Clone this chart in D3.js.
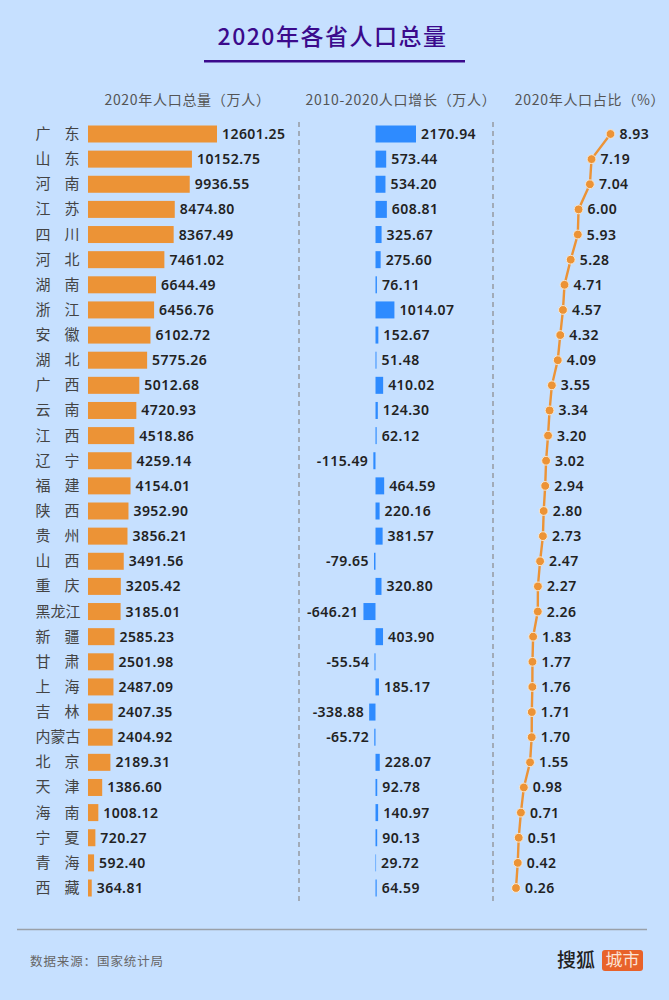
<!DOCTYPE html>
<html>
<head>
<meta charset="utf-8">
<script src="https://cdn.jsdelivr.net/npm/d3@7"></script>
<style>
  html, body { margin: 0; padding: 0; background: #c6e0ff; }
  svg { display: block; }
  text { font-family: "Noto Sans CJK SC", "Noto Sans", sans-serif; }
  .num { font-family: "Noto Sans", "Noto Sans CJK SC", sans-serif; font-size: 14px; font-weight: 600; fill: #222; letter-spacing: 0.45px; }
  .head { font-size: 14px; fill: #555; letter-spacing: 0.7px; }
  .prov { font-size: 15px; fill: #444; }
</style>
</head>
<body>
<div class="chart"></div>
<script>
const data = [
  ["广东", 12601.25, 2170.94, 8.93],
  ["山东", 10152.75, 573.44, 7.19],
  ["河南", 9936.55, 534.20, 7.04],
  ["江苏", 8474.80, 608.81, 6.00],
  ["四川", 8367.49, 325.67, 5.93],
  ["河北", 7461.02, 275.60, 5.28],
  ["湖南", 6644.49, 76.11, 4.71],
  ["浙江", 6456.76, 1014.07, 4.57],
  ["安徽", 6102.72, 152.67, 4.32],
  ["湖北", 5775.26, 51.48, 4.09],
  ["广西", 5012.68, 410.02, 3.55],
  ["云南", 4720.93, 124.30, 3.34],
  ["江西", 4518.86, 62.12, 3.20],
  ["辽宁", 4259.14, -115.49, 3.02],
  ["福建", 4154.01, 464.59, 2.94],
  ["陕西", 3952.90, 220.16, 2.80],
  ["贵州", 3856.21, 381.57, 2.73],
  ["山西", 3491.56, -79.65, 2.47],
  ["重庆", 3205.42, 320.80, 2.27],
  ["黑龙江", 3185.01, -646.21, 2.26],
  ["新疆", 2585.23, 403.90, 1.83],
  ["甘肃", 2501.98, -55.54, 1.77],
  ["上海", 2487.09, 185.17, 1.76],
  ["吉林", 2407.35, -338.88, 1.71],
  ["内蒙古", 2404.92, -65.72, 1.70],
  ["北京", 2189.31, 228.07, 1.55],
  ["天津", 1386.60, 92.78, 0.98],
  ["海南", 1008.12, 140.97, 0.71],
  ["宁夏", 720.27, 90.13, 0.51],
  ["青海", 592.40, 29.72, 0.42],
  ["西藏", 364.81, 64.59, 0.26]
];

const width = 669;
const height = 1000;
const barH = 17;

const svg = d3.select(".chart")
              .append("svg")
              .attr("width", width)
              .attr("height", height);

const y = d3.scalePoint()
            .domain(data.map(d => d[0]))
            .range([134, 888]);
const xTotal = d3.scaleLinear().domain([0, 12601.25]).range([88, 217]);
const xGrow = d3.scaleLinear().domain([0, 2170.94]).range([375.5, 416]);
const xShare = d3.scaleLinear().domain([0.26, 8.93]).range([516, 610.5]);

// title
svg.append("text")
   .attr("x", 332.5).attr("y", 45)
   .attr("text-anchor", "middle")
   .attr("fill", "#3b0a8c")
   .style("font-size", "23px")
   .style("font-weight", 500)
   .style("letter-spacing", "1.5px")
   .text("2020年各省人口总量");
svg.append("rect")
   .attr("x", 204).attr("y", 60).attr("width", 261).attr("height", 2.5)
   .attr("fill", "#3b0a8c");

// column heads
[[187.5, "2020年人口总量（万人）"], [401, "2010-2020人口增长（万人）"], [590, "2020年人口占比（%）"]]
  .forEach(h => {
    svg.append("text")
       .attr("class", "head")
       .attr("x", h[0]).attr("y", 105)
       .attr("text-anchor", "middle")
       .text(h[1]);
  });

// dashed dividers
[299, 493].forEach(x => {
  svg.append("line")
     .attr("x1", x).attr("x2", x)
     .attr("y1", 122).attr("y2", 904)
     .attr("stroke", "#8f9093")
     .attr("stroke-width", 1.3)
     .attr("stroke-dasharray", "5 4");
});

// province names, two-character names are spaced out
const prov = svg.append("g");
data.forEach(d => {
  const name = d[0];
  const xs = name.length === 2 ? [43, 72] : [43, 58, 73];
  name.split("").forEach((c, i) => {
    prov.append("text")
        .attr("class", "prov")
        .attr("x", xs[i]).attr("y", y(name) + 5)
        .attr("text-anchor", "middle")
        .text(c);
  });
});

// total bars
svg.selectAll("rect.total")
   .data(data)
   .enter()
   .append("rect")
   .attr("class", "total")
   .attr("x", xTotal(0))
   .attr("y", d => y(d[0]) - barH / 2)
   .attr("width", d => xTotal(d[1]) - xTotal(0))
   .attr("height", barH)
   .attr("fill", "#ec9336");

svg.selectAll("text.total")
   .data(data)
   .enter()
   .append("text")
   .attr("class", "num total")
   .attr("x", d => xTotal(d[1]) + 5)
   .attr("y", d => y(d[0]) + 5)
   .text(d => d[1].toFixed(2));

// growth bars
svg.selectAll("rect.grow")
   .data(data)
   .enter()
   .append("rect")
   .attr("class", "grow")
   .attr("x", d => Math.min(xGrow(d[2]), xGrow(0)))
   .attr("y", d => y(d[0]) - barH / 2)
   .attr("width", d => Math.abs(xGrow(d[2]) - xGrow(0)))
   .attr("height", barH)
   .attr("fill", "#2e8bff");

svg.selectAll("text.grow")
   .data(data)
   .enter()
   .append("text")
   .attr("class", "num grow")
   .attr("x", d => d[2] >= 0 ? xGrow(d[2]) + 5 : xGrow(d[2]) - 5)
   .attr("y", d => y(d[0]) + 5)
   .attr("text-anchor", d => d[2] >= 0 ? "start" : "end")
   .text(d => d[2].toFixed(2));

// share line
const line = d3.line()
               .x(d => xShare(d[3]))
               .y(d => y(d[0]));

svg.append("path")
   .datum(data)
   .attr("d", line)
   .attr("fill", "none")
   .attr("stroke", "#ec9336")
   .attr("stroke-width", 2.4);

svg.selectAll("circle")
   .data(data)
   .enter()
   .append("circle")
   .attr("cx", d => xShare(d[3]))
   .attr("cy", d => y(d[0]))
   .attr("r", 4.4)
   .attr("fill", "#ec9336")
   .attr("stroke", "#f8e8d2")
   .attr("stroke-width", 1);

svg.selectAll("text.share")
   .data(data)
   .enter()
   .append("text")
   .attr("class", "num share")
   .attr("x", d => xShare(d[3]) + 9)
   .attr("y", d => y(d[0]) + 5)
   .text(d => d[3].toFixed(2));

// footer
svg.append("line")
   .attr("x1", 17).attr("x2", 647)
   .attr("y1", 929.5).attr("y2", 929.5)
   .attr("stroke", "#9aa0a8")
   .attr("stroke-width", 1.5);

svg.append("text")
   .attr("x", 30).attr("y", 966)
   .attr("fill", "#666")
   .style("font-size", "12.5px")
   .style("letter-spacing", "0.9px")
   .text("数据来源：国家统计局");

svg.append("text")
   .attr("x", 557).attr("y", 967)
   .attr("fill", "#222")
   .style("font-size", "19px")
   .style("font-weight", 500)
   .text("搜狐");

svg.append("rect")
   .attr("x", 602).attr("y", 950).attr("width", 41).attr("height", 21).attr("rx", 3)
   .attr("fill", "#e8622a");

svg.append("text")
   .attr("x", 622.5).attr("y", 966)
   .attr("text-anchor", "middle")
   .attr("fill", "#fbe3d6")
   .style("font-size", "17px")
   .text("城市");
</script>
</body>
</html>
